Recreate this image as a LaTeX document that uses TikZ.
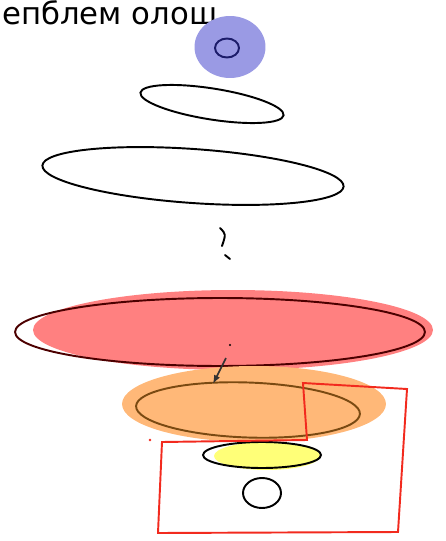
\documentclass[tikz,border=0pt]{standalone}
\usepackage{fontspec}
\newfontfamily\handfont{DejaVu Sans}
\usepackage{tikz}
\usetikzlibrary{arrows.meta,shapes.geometric}

\definecolor{blobblue}{HTML}{9A9AE4}
\definecolor{inkblue}{HTML}{1C1C6A}
\definecolor{blobred}{HTML}{FF8080}
\definecolor{blobor}{HTML}{FFB878}
\definecolor{inkbrown}{HTML}{7A4A12}
\definecolor{blobyel}{HTML}{FFFF78}
\definecolor{inkred}{HTML}{F22A1E}

\begin{document}
\begin{tikzpicture}[
    x=0.02cm, y=-0.02cm,
    blob/.style={ellipse, inner sep=0pt},
    ring/.style={ellipse, draw, inner sep=0pt, line width=1.1pt},
    arr/.style={-{Latex[length=5pt]}, line width=0.9pt}
]
\useasboundingbox (0,0) rectangle (446,541);

% title
\node[anchor=base west, inner sep=0pt, font=\handfont\fontsize{17.5}{19}\selectfont] (title) at (2,25) {епблем олош};

% top dot
\node[blob, fill=blobblue, minimum width=1.42cm, minimum height=1.24cm] (top) at (230,47) {};
\node[ring, draw=inkblue, minimum width=0.48cm, minimum height=0.38cm] (core) at (227,48) {};

% layers
\node[ring, minimum width=2.9cm, minimum height=0.62cm, rotate=-9] (lay1) at (212,104) {};
\node[ring, minimum width=6.04cm, minimum height=1.08cm, rotate=-4] (lay2) at (193,176) {};

% dots
\draw[line width=1.1pt, line cap=round] (220,228) .. controls (226,234) .. (222,246);
\draw[line width=1.1pt, line cap=round] (225,255) -- (230,259);

% red layer
\node[blob, fill=blobred, minimum width=8.0cm, minimum height=1.6cm] (red) at (233,330) {};
\node[ring, draw=black!70!red, minimum width=8.2cm, minimum height=1.36cm] (redring) at (220,332) {};

% orange layer
\node[blob, fill=blobor, minimum width=5.28cm, minimum height=1.52cm] (orange) at (254,404) {};
\node[ring, draw=inkbrown, minimum width=4.48cm, minimum height=1.1cm, rotate=-2] (orring) at (248,410) {};

% arrow
\coordinate (from) at (226,358);
\coordinate (to) at (213,384);
\fill (230,345) circle (0.6pt);
\draw[arr, black!80] (from) -- (to);

% bottom
\node[blob, fill=blobyel, minimum width=2.12cm, minimum height=0.56cm] (yel) at (267,456) {};
\node[ring, minimum width=2.36cm, minimum height=0.52cm] (yelring) at (262,455) {};
\node[ring, minimum width=0.76cm, minimum height=0.6cm] (small) at (262,493) {};

% frame
\draw[inkred, line width=1.1pt] (162,442) -- (307,440) -- (303,383) -- (407,389)
    -- (398,532) -- (158,533) -- cycle;
\fill[inkred] (150,440) circle (0.8pt);
\end{tikzpicture}
\end{document}
